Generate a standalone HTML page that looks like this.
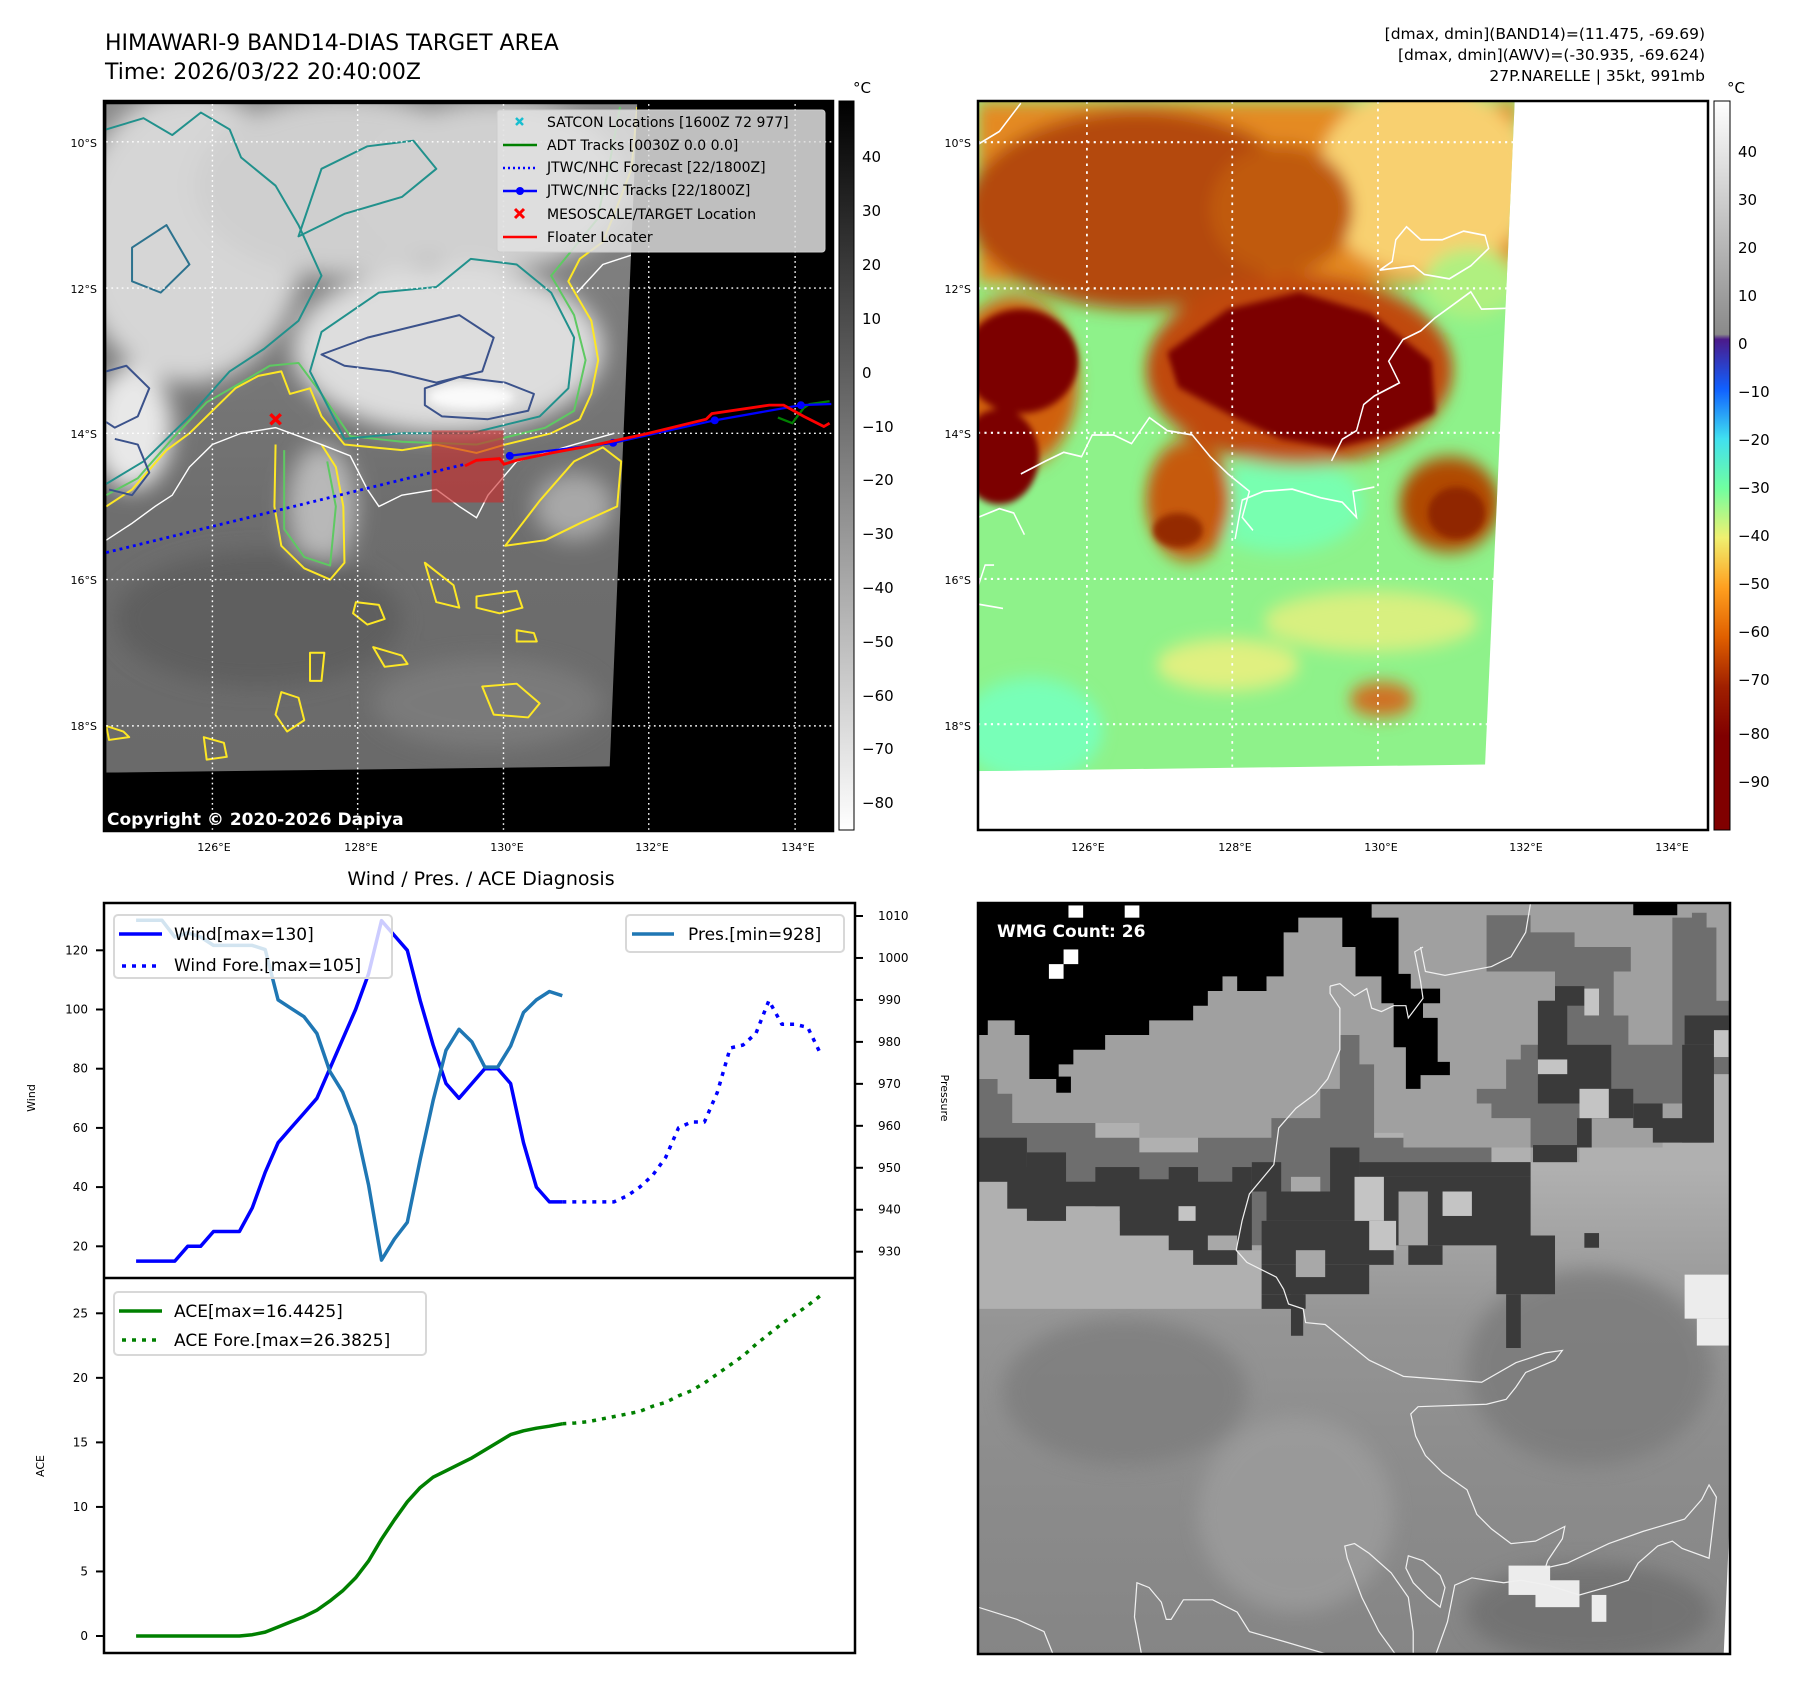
<!DOCTYPE html>
<html><head><meta charset="utf-8"><style>
html,body{margin:0;padding:0;background:#fff;}
svg{display:block;font-family:"DejaVu Sans","Liberation Sans",sans-serif;}
</style></head><body>
<svg id="root" width="1797" height="1690" viewBox="0 0 1797 1690" xmlns="http://www.w3.org/2000/svg">
<defs>
  <linearGradient id="cbGray" x1="0" y1="0" x2="0" y2="1"><stop offset="0" stop-color="#000"/><stop offset="1" stop-color="#fff"/></linearGradient>
  <linearGradient id="cbHeat" x1="0" y1="0" x2="0" y2="1">
    <stop offset="0" stop-color="#ffffff"/><stop offset="0.32" stop-color="#8a8a8a"/>
    <stop offset="0.327" stop-color="#4b1a8a"/><stop offset="0.395" stop-color="#1060ff"/>
    <stop offset="0.463" stop-color="#40e0f0"/><stop offset="0.531" stop-color="#70ffa0"/>
    <stop offset="0.599" stop-color="#f0f070"/><stop offset="0.667" stop-color="#ffa020"/>
    <stop offset="0.735" stop-color="#e06000"/><stop offset="0.803" stop-color="#a02000"/>
    <stop offset="0.871" stop-color="#800000"/><stop offset="1" stop-color="#800000"/>
  </linearGradient>
  <linearGradient id="mapBase" x1="0" y1="0" x2="0" y2="1"><stop offset="0" stop-color="#8a8a8a"/><stop offset="0.6" stop-color="#6e6e6e"/><stop offset="1" stop-color="#6a6a6a"/></linearGradient>
  <linearGradient id="wmgBase" x1="0" y1="0" x2="0" y2="1"><stop offset="0.35" stop-color="#b0b0b0"/><stop offset="0.55" stop-color="#959595"/><stop offset="0.75" stop-color="#8c8c8c"/><stop offset="1" stop-color="#858585"/></linearGradient>
  <filter id="blur8"><feGaussianBlur stdDeviation="8"/></filter>
  <filter id="blur20"><feGaussianBlur stdDeviation="20"/></filter>
  <clipPath id="mapClip"><polygon points="185,185 1110,185 1062,1362 185,1373"/></clipPath>
  <clipPath id="heatClip"><polygon points="0,0 1503,0 1420,1530 0,1545"/></clipPath>
  <clipPath id="wmgClip"><rect x="0" y="0" width="1536" height="1534"/></clipPath>
</defs>

<!-- Titles -->
<text x="105" y="50" font-size="22" fill="#000">HIMAWARI-9 BAND14-DIAS TARGET AREA</text>
<text x="105" y="79" font-size="22" fill="#000">Time: 2026/03/22 20:40:00Z</text>
<g font-size="15.5" text-anchor="end" fill="#000">
  <text x="1705" y="39">[dmax, dmin](BAND14)=(11.475, -69.69)</text>
  <text x="1705" y="60">[dmax, dmin](AWV)=(-30.935, -69.624)</text>
  <text x="1705" y="81">27P.NARELLE | 35kt, 991mb</text>
</g>

<!-- ============ LEFT MAP ============ -->
<g transform="scale(0.5741,0.5627)">
  <rect x="181" y="181" width="1271" height="1297" fill="#000"/>
  <g clip-path="url(#mapClip)">
    <rect x="185" y="185" width="930" height="1190" fill="url(#mapBase)"/>
    <g filter="url(#blur20)">
      <ellipse cx="330" cy="420" rx="200" ry="260" fill="#d6d6d6"/>
      <ellipse cx="600" cy="330" rx="260" ry="160" fill="#cfcfcf"/>
      <ellipse cx="860" cy="330" rx="230" ry="150" fill="#d0d0d0"/>
      <ellipse cx="780" cy="620" rx="270" ry="150" fill="#dddddd"/>
      <ellipse cx="230" cy="760" rx="70" ry="110" fill="#e8e8e8"/>
      <ellipse cx="560" cy="900" rx="60" ry="110" fill="#b8b8b8"/>
      <ellipse cx="1000" cy="900" rx="70" ry="60" fill="#a8a8a8"/>
      <ellipse cx="450" cy="1100" rx="250" ry="120" fill="#5e5e5e"/>
      <ellipse cx="850" cy="1250" rx="200" ry="80" fill="#7a7a7a"/>
    </g>
    <ellipse cx="820" cy="705" rx="75" ry="22" fill="#fafafa" filter="url(#blur8)"/>
    <g fill="none" stroke-width="3.5" stroke-linejoin="round">
      <path stroke="#fde725" d="M185,900 L230,870 L290,800 L330,770 L370,730 L410,690 L450,668 L490,660 L505,700 L540,690 L560,740 L600,790 L700,800 L760,790 L830,805 L880,790 L960,770 L1010,745 L1030,700 L1042,640 L1030,570 L990,500 L1010,460 L1050,430 L1070,380 L1100,300 L1110,190"/>
      <path stroke="#fde725" d="M480,790 L478,900 L490,970 L530,1010 L575,1030 L600,1000 L598,900 L585,830 L560,790"/>
      <path stroke="#fde725" d="M880,970 L950,960 L1010,930 L1075,900 L1082,820 L1050,795 L1000,820 L940,890 Z"/>
      <path stroke="#5ec962" d="M185,880 L240,850 L300,780 L360,715 L420,680 L470,650 L520,645 L560,700 L610,775 L700,785 L830,790 L950,760 L1000,730 L1020,640 L1000,560 L960,490 L1000,440 L1040,390 L1060,300 L1080,190"/>
      <path stroke="#5ec962" d="M495,800 L495,940 L530,990 L575,1005 L585,900 L570,820"/>
      <path stroke="#21918c" d="M185,860 L250,820 L330,740 L400,660 L460,620 L520,570 L560,490 L520,400 L480,330 L420,280 L400,230 L350,200 L300,240 L250,210 L185,230"/>
      <path stroke="#21918c" d="M600,780 L700,770 L820,770 L940,740 L990,690 L1000,600 L960,520 L900,470 L820,460 L760,510 L660,520 L560,590 L540,660 L580,740 Z"/>
      <path stroke="#21918c" d="M520,420 L600,380 L700,350 L760,300 L720,250 L640,260 L560,300 Z"/>
      <path stroke="#2c728e" d="M230,440 L290,400 L330,470 L280,520 L230,500 Z"/>
      <path stroke="#3b528b" d="M560,630 L640,600 L720,580 L800,560 L860,600 L840,660 L760,680 L680,660 L600,650 Z"/>
      <path stroke="#3b528b" d="M740,690 L800,670 L880,680 L930,700 L920,730 L850,745 L770,740 L740,720 Z"/>
      <path stroke="#3b528b" d="M185,660 L220,650 L260,690 L240,740 L200,760 L185,750"/>
      <path stroke="#3b528b" d="M200,780 L240,790 L260,840 L230,880 L190,870"/>
      <path stroke="#fde725" d="M620,1070 L660,1075 L670,1100 L640,1110 L615,1090 Z M740,1000 L790,1040 L800,1080 L760,1070 Z M830,1060 L900,1050 L910,1080 L870,1090 L830,1080 Z M840,1220 L900,1215 L940,1250 L920,1275 L860,1270 Z M490,1230 L520,1240 L530,1280 L500,1300 L480,1270 Z M540,1160 L565,1160 L560,1210 L540,1210 Z M650,1150 L700,1165 L710,1180 L670,1185 Z M185,1290 L215,1300 L225,1310 L190,1315 Z M355,1310 L390,1320 L395,1345 L360,1350 Z M900,1120 L930,1125 L935,1140 L900,1140 Z"/>
    </g>
    <g fill="none" stroke="#fff" stroke-width="2.5">
      <path d="M185,960 L230,930 L270,900 L300,880 L330,830 L370,790 L420,770 L480,760 L520,775 L560,790 L610,810 L640,870 L660,900 L700,880 L760,870 L800,900 L830,920 L850,880 L900,820 L1000,790 L1070,770"/>
      <path d="M1005,520 L1050,470 L1080,460 L1110,450 L1150,470 L1200,480 L1220,520"/>
      <path d="M1240,430 L1270,470 L1310,480 L1350,490 L1420,510 L1445,520"/>
    </g>
  </g>
  <g stroke="#fff" stroke-width="2.5" stroke-dasharray="3,6" fill="none">
    <line x1="185" y1="252" x2="1448" y2="252"/><line x1="185" y1="512" x2="1448" y2="512"/>
    <line x1="185" y1="770" x2="1448" y2="770"/><line x1="185" y1="1030" x2="1448" y2="1030"/>
    <line x1="185" y1="1290" x2="1448" y2="1290"/>
    <line x1="370" y1="185" x2="370" y2="1475"/><line x1="623" y1="185" x2="623" y2="1475"/>
    <line x1="877" y1="185" x2="877" y2="1475"/><line x1="1130" y1="185" x2="1130" y2="1475"/>
    <line x1="1385" y1="185" x2="1385" y2="1475"/>
  </g>
  <rect x="752" y="765" width="125" height="128" fill="rgba(205,40,40,0.6)"/>
  <polyline points="185,982 810,825" fill="none" stroke="#0000ff" stroke-width="5" stroke-dasharray="5,7"/>
  <polyline points="1355,742 1380,752 1400,725 1410,718 1445,713" fill="none" stroke="#008000" stroke-width="4"/>
  <polyline points="888,810 1068,787 1245,747 1395,720 1448,718" fill="none" stroke="#0000ff" stroke-width="4"/>
  <g fill="#0000ff"><circle cx="888" cy="810" r="7"/><circle cx="1068" cy="787" r="7"/><circle cx="1245" cy="747" r="7"/><circle cx="1395" cy="720" r="7"/></g>
  <polyline points="810,828 830,818 870,815 878,825 900,818 960,805 1040,790 1130,770 1230,745 1240,735 1340,720 1365,720 1400,740 1435,758 1445,752" fill="none" stroke="#ff0000" stroke-width="5"/>
  <path d="M471,736 L489,754 M489,736 L471,754" stroke="#ff0000" stroke-width="6"/>
</g>
<rect x="104" y="101" width="729" height="730" fill="none" stroke="#000" stroke-width="2.5"/>
<g>
  <rect x="497" y="110" width="328" height="142" rx="3" fill="rgba(225,225,225,0.85)" stroke="#cccccc"/>
  <g font-size="14" fill="#000">
    <text x="547" y="127">SATCON Locations [1600Z 72 977]</text>
    <text x="547" y="150">ADT Tracks [0030Z 0.0 0.0]</text>
    <text x="547" y="172">JTWC/NHC Forecast [22/1800Z]</text>
    <text x="547" y="195">JTWC/NHC Tracks [22/1800Z]</text>
    <text x="547" y="219">MESOSCALE/TARGET Location</text>
    <text x="547" y="242">Floater Locater</text>
  </g>
  <path d="M516,118 L523,125 M523,118 L516,125" stroke="#17becf" stroke-width="2.5"/>
  <line x1="503" y1="145" x2="537" y2="145" stroke="#008000" stroke-width="2.5"/>
  <line x1="503" y1="168" x2="537" y2="168" stroke="#0000ff" stroke-width="2.5" stroke-dasharray="2,3"/>
  <line x1="503" y1="191" x2="537" y2="191" stroke="#0000ff" stroke-width="2.5"/><circle cx="520" cy="191" r="4" fill="#0000ff"/>
  <path d="M515,209 L524,218 M524,209 L515,218" stroke="#ff0000" stroke-width="3"/>
  <line x1="503" y1="237" x2="537" y2="237" stroke="#ff0000" stroke-width="2.5"/>
</g>
<text x="107" y="825" font-size="17" font-weight="bold" fill="#fff">Copyright © 2020-2026 Dapiya</text>
<g font-size="11" fill="#000" text-anchor="end">
  <text x="97" y="147">10°S</text><text x="97" y="293">12°S</text><text x="97" y="438">14°S</text><text x="97" y="584">16°S</text><text x="97" y="730">18°S</text>
</g>
<g font-size="11" fill="#000" text-anchor="middle">
  <text x="214" y="851">126°E</text><text x="361" y="851">128°E</text><text x="507" y="851">130°E</text><text x="652" y="851">132°E</text><text x="798" y="851">134°E</text>
</g>
<g>
  <rect x="839" y="101" width="15" height="729" fill="url(#cbGray)" stroke="#000" stroke-width="1"/>
  <text x="853" y="93" font-size="15" fill="#000">°C</text>
  <g font-size="15" fill="#000">
    <text x="862" y="162">40</text><text x="862" y="216">30</text><text x="862" y="270">20</text><text x="862" y="324">10</text>
    <text x="862" y="378">0</text><text x="862" y="432">−10</text><text x="862" y="485">−20</text><text x="862" y="539">−30</text>
    <text x="862" y="593">−40</text><text x="862" y="647">−50</text><text x="862" y="701">−60</text><text x="862" y="754">−70</text><text x="862" y="808">−80</text>
  </g>
</g>

<!-- ============ RIGHT HEAT MAP ============ -->
<g transform="translate(978,101) scale(0.3571,0.4337)">
  <g clip-path="url(#heatClip)">
    <rect x="0" y="0" width="1510" height="1550" fill="#8ef28a"/>
    <g filter="url(#blur20)">
      <ellipse cx="850" cy="930" rx="230" ry="110" fill="#78ffb0"/>
      <ellipse cx="150" cy="1450" rx="200" ry="120" fill="#78ffb8"/>
      <ellipse cx="1100" cy="1200" rx="300" ry="70" fill="#d8f080"/>
      <ellipse cx="700" cy="1300" rx="200" ry="60" fill="#e0f080"/>
      <rect x="0" y="0" width="1510" height="420" fill="#e48a20"/>
      <ellipse cx="1250" cy="180" rx="300" ry="220" fill="#f8d070"/>
      <ellipse cx="1380" cy="420" rx="130" ry="80" fill="#b0f080"/>
      <ellipse cx="450" cy="250" rx="480" ry="230" fill="#b44a08"/>
      <ellipse cx="850" cy="250" rx="200" ry="150" fill="#c05a10"/>
      <ellipse cx="590" cy="920" rx="120" ry="140" fill="#c65a08"/>
      <ellipse cx="1320" cy="930" rx="140" ry="110" fill="#b04800"/>
      <ellipse cx="1130" cy="1380" rx="90" ry="40" fill="#d07020"/>
      <ellipse cx="100" cy="650" rx="180" ry="200" fill="#d06010"/>
      <ellipse cx="900" cy="620" rx="430" ry="220" fill="#c04a08"/>
    </g>
    <g filter="url(#blur8)" fill="#7c0000">
      <ellipse cx="120" cy="600" rx="160" ry="120"/>
      <ellipse cx="60" cy="820" rx="110" ry="110"/>
      <path d="M530,580 L700,480 L900,440 L1100,490 L1270,600 L1280,720 L1150,770 L1000,800 L850,780 L720,730 L560,660 Z"/>
      <ellipse cx="560" cy="990" rx="70" ry="40" fill="#942a00"/>
      <ellipse cx="1340" cy="950" rx="80" ry="60" fill="#902800"/>
    </g>
    <g fill="none" stroke="#fff" stroke-width="4">
      <path d="M0,100 L60,70 L120,5"/>
      <path d="M120,860 L190,830 L240,810 L290,820 L320,770 L380,770 L430,790 L480,730 L530,760 L600,770 L650,820 L700,860 L760,900 L740,960 L770,990 M720,1010 L740,920 L800,900 L880,895 L960,915 L1020,925 L1060,960 L1050,900 L1110,890"/>
      <path d="M0,960 L60,940 L100,950 L130,1000"/>
      <path d="M990,830 L1020,780 L1060,760 L1080,700 L1110,680 L1180,650 L1150,600 L1190,550 L1240,530 L1280,500 L1330,470 L1380,440 L1410,480 L1480,478"/>
      <path d="M1125,390 L1160,370 L1170,320 L1200,290 L1240,320 L1300,320 L1360,300 L1420,310 L1430,340 L1380,380 L1320,410 L1250,400 L1220,380 Z"/>
      <path d="M0,1160 L70,1170 M0,1120 L20,1070 L45,1070"/>
    </g>
  </g>
  <g stroke="#fff" stroke-width="5" stroke-dasharray="6,12" fill="none">
    <line x1="0" y1="95" x2="1500" y2="95"/><line x1="0" y1="432" x2="1485" y2="432"/>
    <line x1="0" y1="765" x2="1465" y2="765"/><line x1="0" y1="1102" x2="1445" y2="1102"/>
    <line x1="0" y1="1437" x2="1425" y2="1437"/>
    <line x1="305" y1="0" x2="305" y2="1540"/><line x1="712" y1="0" x2="712" y2="1535"/>
    <line x1="1120" y1="0" x2="1120" y2="1530"/>
  </g>
</g>
<rect x="978" y="101" width="730" height="729" fill="none" stroke="#000" stroke-width="2.5"/>
<g font-size="11" fill="#000" text-anchor="end">
  <text x="971" y="147">10°S</text><text x="971" y="293">12°S</text><text x="971" y="438">14°S</text><text x="971" y="584">16°S</text><text x="971" y="730">18°S</text>
</g>
<g font-size="11" fill="#000" text-anchor="middle">
  <text x="1088" y="851">126°E</text><text x="1235" y="851">128°E</text><text x="1381" y="851">130°E</text><text x="1526" y="851">132°E</text><text x="1672" y="851">134°E</text>
</g>
<g>
  <rect x="1714" y="101" width="16" height="729" fill="url(#cbHeat)" stroke="#000" stroke-width="1"/>
  <text x="1727" y="93" font-size="15" fill="#000">°C</text>
  <g font-size="15" fill="#000">
    <text x="1738" y="157">40</text><text x="1738" y="205">30</text><text x="1738" y="253">20</text><text x="1738" y="301">10</text>
    <text x="1738" y="349">0</text><text x="1738" y="397">−10</text><text x="1738" y="445">−20</text><text x="1738" y="493">−30</text>
    <text x="1738" y="541">−40</text><text x="1738" y="589">−50</text><text x="1738" y="637">−60</text><text x="1738" y="685">−70</text>
    <text x="1738" y="739">−80</text><text x="1738" y="787">−90</text>
  </g>
</g>

<!-- ============ WMG PANEL ============ -->
<g transform="translate(978,903) scale(0.489)">
 <g clip-path="url(#wmgClip)">
  <rect x="0" y="0" width="1554" height="1554" fill="#fff"/>
  <polygon points="0,0 1554,0 1540,1200 1525,1535 0,1545" fill="url(#wmgBase)"/>
  <g filter="url(#blur20)" opacity="0.8">
    <ellipse cx="300" cy="1000" rx="250" ry="150" fill="#7d7d7d"/>
    <ellipse cx="1250" cy="950" rx="250" ry="200" fill="#7a7a7a"/>
    <ellipse cx="1250" cy="1450" rx="250" ry="100" fill="#6e6e6e"/>
    <ellipse cx="650" cy="1250" rx="200" ry="200" fill="#9d9d9d"/>
    <ellipse cx="200" cy="700" rx="250" ry="90" fill="#b5b5b5"/>
  </g>
  <polygon fill="#a0a0a0" points="0,0 1554,0 1554,350 1500,350 1500,480 1400,480 1400,500 1230,500 1230,530 1130,530 1130,500 870,500 870,470 600,470 600,500 450,500 450,480 330,480 330,450 0,450"/>
  <g fill="#6e6e6e">
    <polygon points="0,360 40,360 40,390 70,390 70,450 240,450 240,480 330,480 330,510 450,510 450,480 600,480 600,440 700,440 700,380 740,380 740,270 780,270 780,330 810,330 810,480 870,480 870,500 1050,500 1050,530 1130,530 1130,700 0,700"/>
    <polygon points="1040,25 1130,25 1130,60 1220,60 1220,90 1335,90 1335,140 1300,140 1300,230 1330,230 1330,290 1420,290 1420,30 1460,30 1460,20 1490,20 1490,50 1510,50 1510,200 1554,200 1554,350 1500,350 1500,410 1340,410 1340,440 1230,440 1230,500 1130,500 1130,440 1050,440 1050,410 1020,410 1020,380 1080,380 1080,320 1110,320 1110,290 1150,290 1150,200 1180,200 1180,140 1040,140"/>
  </g>
  <polygon fill="#b0b0b0" points="0,570 60,570 60,625 115,625 115,650 180,650 180,620 290,620 290,650 320,650 320,680 410,680 410,710 440,710 440,740 530,740 530,710 580,710 580,830 0,830"/>
  <g fill="#3a3a3a">
    <rect x="0" y="480" width="100" height="90"/><rect x="60" y="540" width="120" height="85"/><rect x="100" y="510" width="80" height="140"/>
    <rect x="180" y="570" width="140" height="50"/><rect x="240" y="540" width="90" height="80"/><rect x="290" y="565" width="120" height="115"/>
    <rect x="390" y="540" width="60" height="170"/><rect x="440" y="570" width="90" height="170"/><rect x="520" y="540" width="40" height="170"/>
    <rect x="560" y="530" width="60" height="60"/><rect x="590" y="590" width="190" height="60"/><rect x="580" y="650" width="270" height="90"/>
    <rect x="580" y="740" width="220" height="60"/><rect x="580" y="800" width="90" height="30"/><rect x="640" y="800" width="25" height="85"/>
    <rect x="720" y="500" width="60" height="90"/><rect x="780" y="530" width="350" height="30"/><rect x="830" y="560" width="300" height="140"/>
    <rect x="880" y="700" width="70" height="40"/><rect x="1060" y="680" width="120" height="120"/><rect x="1080" y="800" width="30" height="110"/>
    <rect x="1145" y="200" width="60" height="120"/><rect x="1145" y="290" width="150" height="120"/><rect x="1180" y="170" width="60" height="40"/>
    <rect x="1230" y="380" width="110" height="60"/><rect x="1340" y="410" width="60" height="50"/><rect x="1225" y="440" width="30" height="60"/>
    <rect x="1445" y="230" width="90" height="60"/><rect x="1440" y="290" width="65" height="200"/><rect x="1380" y="440" width="120" height="50"/>
    <rect x="1135" y="495" width="90" height="35"/>
  </g>
  <g fill="#a8a8a8">
    <rect x="650" y="710" width="60" height="55"/><rect x="640" y="560" width="60" height="30"/><rect x="860" y="590" width="60" height="110"/>
    <rect x="470" y="680" width="60" height="30"/>
  </g>
  <g fill="#c4c4c4">
    <rect x="770" y="560" width="60" height="90"/><rect x="800" y="650" width="55" height="60"/><rect x="1145" y="320" width="60" height="30"/>
    <rect x="1240" y="175" width="30" height="55"/><rect x="1505" y="260" width="30" height="55"/><rect x="1230" y="380" width="60" height="60"/>
    <rect x="410" y="620" width="35" height="30"/><rect x="950" y="590" width="60" height="50"/><rect x="1240" y="675" width="30" height="30" fill="#3a3a3a"/>
  </g>
  <polygon fill="#000" points="0,0 805,0 805,30 860,30 860,145 885,145 885,175 945,175 945,205 910,205 910,235 940,235 940,325 965,325 965,352 905,352 905,380 875,380 875,295 850,295 850,205 825,205 825,150 772,150 772,90 745,90 745,30 655,30 655,60 625,60 625,150 590,150 590,180 530,180 530,150 500,150 500,180 470,180 470,210 440,210 440,240 350,240 350,270 260,270 260,300 195,300 195,330 165,330 165,360 105,360 105,270 75,270 75,240 20,240 20,270 0,270"/>
  <rect x="160" y="355" width="30" height="33" fill="#000"/>
  <rect x="1340" y="0" width="90" height="25" fill="#000"/>
  <g fill="#ffffff">
    <rect x="185" y="5" width="30" height="25"/><rect x="300" y="5" width="30" height="25"/><rect x="175" y="95" width="30" height="30"/><rect x="145" y="125" width="30" height="30"/>
  </g>
  <g fill="#ececec">
    <rect x="1445" y="760" width="90" height="90"/><rect x="1470" y="850" width="75" height="55"/>
    <rect x="1085" y="1355" width="85" height="60"/><rect x="1140" y="1385" width="90" height="55"/><rect x="1255" y="1415" width="30" height="55"/>
  </g>
  <g fill="none" stroke="#f0f0f0" stroke-width="2.5">
    <path d="M905,90 L915,140 L955,148 L1050,130 L1090,110 L1120,60 L1130,0"/>
    <path d="M720,170 L740,165 L770,190 L795,175 L805,215 L825,222 L850,210 L875,210 L880,235 L910,195 L905,160 L893,100 L910,90"/>
    <path d="M720,170 L720,185 L740,215 L740,300 L715,360 L690,390 L650,420 L615,460 L605,535 L555,595 L540,650 L528,710 L550,735 L610,765 L625,790 L635,820 L665,830 L670,858 L710,862 L800,935 L870,968 L960,975 L1030,980 L1100,940 L1160,920 L1195,915 L1180,935 L1120,960 L1100,990 L1080,1015 L1040,1025 L900,1030 L885,1045 L895,1090 L915,1130 L950,1165 L1000,1200 L1020,1250 L1050,1280 L1090,1310 L1140,1305 L1180,1285 L1200,1275 L1195,1300 L1165,1345 L1160,1360 L1205,1350 L1290,1310 L1360,1285 L1445,1260 L1480,1220 L1495,1190 L1510,1215 L1495,1340 L1440,1320 L1420,1305 L1390,1315 L1350,1350 L1330,1385 L1300,1395 L1230,1415 L1165,1395 L1110,1385 L1075,1390 L1040,1385 L1010,1380 L975,1395 L960,1470 L935,1540"/>
    <path d="M860,1545 L820,1490 L785,1420 L755,1340 L750,1315 L770,1310 L800,1330 L845,1370 L880,1420 L890,1490 L890,1545"/>
    <path d="M945,1440 L920,1420 L890,1390 L875,1360 L880,1335 L910,1345 L945,1375 L955,1400 Z"/>
    <path d="M335,1540 L320,1460 L325,1390 L350,1400 L375,1430 L385,1465 L395,1465 L420,1425 L480,1425 L530,1450 L555,1490 L625,1510 L710,1535"/>
    <path d="M0,1440 L80,1465 L135,1490 L155,1540"/>
  </g>
 </g>
</g>
<rect x="978" y="903" width="752" height="751" fill="none" stroke="#000" stroke-width="2.5"/>
<text x="997" y="937" font-size="17" font-weight="bold" fill="#fff">WMG Count: 26</text>

<!-- ============ DIAGNOSIS CHART ============ -->
<text x="481" y="885" font-size="19" text-anchor="middle" fill="#000">Wind / Pres. / ACE Diagnosis</text>
<g id="chart"></g>
<rect x="104" y="903" width="751" height="750" fill="none" stroke="#000" stroke-width="2.5"/>
<line x1="104" y1="1278" x2="855" y2="1278" stroke="#000" stroke-width="2.5"/>
<text transform="translate(35,1098) rotate(-90)" font-size="11" text-anchor="middle" fill="#000">Wind</text>
<text transform="translate(941,1098) rotate(90)" font-size="11" text-anchor="middle" fill="#000">Pressure</text>
<text transform="translate(44,1466) rotate(-90)" font-size="11" text-anchor="middle" fill="#000">ACE</text>
<g>
  <rect x="114" y="915" width="278" height="63" rx="4" fill="rgba(255,255,255,0.8)" stroke="#d8d8d8" stroke-width="2"/>
  <line x1="119" y1="934" x2="162" y2="934" stroke="#0000ff" stroke-width="3.5"/>
  <line x1="122" y1="966" x2="160" y2="966" stroke="#0000ff" stroke-width="3.5" stroke-dasharray="4,6"/>
  <text x="174" y="940" font-size="17" fill="#000">Wind[max=130]</text>
  <text x="174" y="971" font-size="17" fill="#000">Wind Fore.[max=105]</text>
</g>
<g>
  <rect x="626" y="915" width="218" height="37" rx="4" fill="rgba(255,255,255,0.8)" stroke="#d8d8d8" stroke-width="2"/>
  <line x1="632" y1="934" x2="674" y2="934" stroke="#1f77b4" stroke-width="3.5"/>
  <text x="688" y="940" font-size="17" fill="#000">Pres.[min=928]</text>
</g>
<g>
  <rect x="114" y="1292" width="312" height="63" rx="4" fill="rgba(255,255,255,0.8)" stroke="#d8d8d8" stroke-width="2"/>
  <line x1="119" y1="1311" x2="162" y2="1311" stroke="#008000" stroke-width="3.5"/>
  <line x1="122" y1="1340" x2="160" y2="1340" stroke="#008000" stroke-width="3.5" stroke-dasharray="4,6"/>
  <text x="174" y="1317" font-size="17" fill="#000">ACE[max=16.4425]</text>
  <text x="174" y="1346" font-size="17" fill="#000">ACE Fore.[max=26.3825]</text>
</g>
</svg>
<script>
const windObs = [15,15,15,15,20,20,25,25,25,33,45,55,60,65,70,80,90,100,112,130,125,120,103,88,75,70,75,80,80,75,55,40,35,35];
const windFcst = [35,35,35,35,35,37,40,44,50,60,62,62,72,87,88,92,103,95,95,94,85];
const presObs = [1009,1009,1009,1005,1006,1005,1003,1003,1003,1003,1002,990,988,986,982,973,968,960,946,928,933,937,952,966,978,983,980,974,974,979,987,990,992,991];
const aceObs = [0,0,0,0,0,0,0,0,0,0.1,0.3,0.7,1.1,1.5,2.0,2.7,3.5,4.5,5.8,7.5,9.0,10.4,11.5,12.3,12.8,13.3,13.8,14.4,15.0,15.6,15.9,16.1,16.25,16.44];
const aceFcst = [16.44,16.5,16.6,16.8,17.0,17.2,17.4,17.8,18.1,18.6,19.0,19.6,20.3,21.0,21.7,22.6,23.4,24.2,24.9,25.6,26.38];
const windTicks = [20,40,60,80,100,120];
const presTicks = [930,940,950,960,970,980,990,1000,1010];
const aceTicks = [0,5,10,15,20,25];
const fcstStart = windObs.length - 1;

const NS = 'http://www.w3.org/2000/svg';
const chart = document.getElementById('chart');
function xPos(i){ return 136.05 + 12.916 * i; }
function yWind(v){ return 1246.3 - (v - 20) * (1246.3 - 950.3) / 100; }
function yPres(p){ return 1251.7 - (p - 930) * (1251.7 - 916) / 80; }
function yAce(a){ return 1636 - a * (1636 - 1313.3) / 25; }
function mk(tag, attrs){ const e = document.createElementNS(NS, tag); for (const k in attrs) e.setAttribute(k, attrs[k]); chart.appendChild(e); return e; }
function line(vals, offset, yf, color, dashed){
  const pts = vals.map((v, k) => xPos(offset + k).toFixed(1) + ',' + yf(v).toFixed(1)).join(' ');
  const e = mk('polyline', {points: pts, fill: 'none', stroke: color, 'stroke-width': 3.5, 'stroke-linejoin': 'round'});
  if (dashed) e.setAttribute('stroke-dasharray', '4,6');
  return e;
}
let e;
e = line(windObs, 0, yWind, '#0000ff', false);


e = line(windFcst, fcstStart, yWind, '#0000ff', true);


e = line(presObs, 0, yPres, '#1f77b4', false);


e = line(aceObs, 0, yAce, '#008000', false);


e = line(aceFcst, fcstStart, yAce, '#008000', true);



function ticks(list, yf, side, name){
  list.forEach(v => {
    const y = yf(v);
    const x0 = side === 'left' ? 96 : 855;
    const t = mk('line', {x1: x0, y1: y, x2: x0 + 8, y2: y, stroke: '#000', 'stroke-width': 2});
    
    
    const lbl = mk('text', {x: side === 'left' ? 88 : 878, y: y + 4, 'font-size': 12, fill: '#000', 'text-anchor': side === 'left' ? 'end' : 'start'});
    lbl.textContent = v;
    
    
  });
}
ticks(windTicks, yWind, 'left', 'wind');
ticks(presTicks, yPres, 'right', 'pressure');
ticks(aceTicks, yAce, 'left', 'ace');
</script>
</body></html>
